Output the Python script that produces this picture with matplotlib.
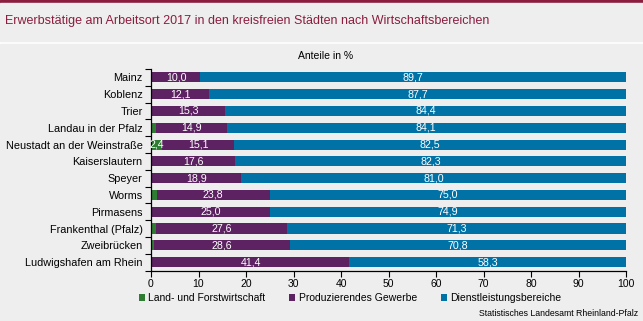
import matplotlib
matplotlib.use('Agg')
import matplotlib.pyplot as plt
import numpy as np

plt.rcParams['font.family'] = ['Liberation Sans', 'DejaVu Sans']

# Daten
staedte = ["Mainz", "Koblenz", "Trier", "Landau in der Pfalz", "Neustadt an der Weinstraße",
           "Kaiserslautern", "Speyer", "Worms", "Pirmasens", "Frankenthal (Pfalz)",
           "Zweibrücken", "Ludwigshafen am Rhein"]
land = [0.3, 0.2, 0.3, 1.0, 2.4, 0.1, 0.1, 1.2, 0.1, 1.1, 0.6, 0.3]
produz = [10.0, 12.1, 15.3, 14.9, 15.1, 17.6, 18.9, 23.8, 25.0, 27.6, 28.6, 41.4]
dienst = [89.7, 87.7, 84.4, 84.1, 82.5, 82.3, 81.0, 75.0, 74.9, 71.3, 70.8, 58.3]
x_ticks = [0, 10, 20, 30, 40, 50, 60, 70, 80, 90, 100]

c_land = '#2E7D32'
c_prod = '#5C2261'
c_dien = '#0072A6'
bg = '#EDEEED'
rot = '#8B1D3F'

fig = plt.figure(figsize=(6.43, 3.21), dpi=100)
fig.patch.set_facecolor('white')

# Hintergrundflächen
fig.patches.append(plt.Rectangle((0, 1 - 3/321), 1, 3/321, transform=fig.transFigure,
                                 color=rot, zorder=-10))
fig.patches.append(plt.Rectangle((0, 1 - 41/321), 1, 38/321, transform=fig.transFigure,
                                 color=bg, zorder=-10))
fig.patches.append(plt.Rectangle((0, 0), 1, 1 - 44/321, transform=fig.transFigure,
                                 color=bg, zorder=-10))

fig.text(5/643, 1 - 21/321, "Erwerbstätige am Arbeitsort 2017 in den kreisfreien Städten nach Wirtschaftsbereichen",
         color=rot, fontsize=9, va='center', ha='left')
fig.text(326/643, 1 - 56/321, "Anteile in %", fontsize=7.5, ha='center', va='center')

ax = fig.add_axes([151/643, 1 - 270.5/321, 475/643, 201.5/321])
ax.set_facecolor(bg)

y = np.arange(len(staedte))
h = 0.6
left_p = np.array(land)
left_d = left_p + np.array(produz)
ax.barh(y, land, height=h, color=c_land, label='Land- und Forstwirtschaft')
ax.barh(y, produz, left=left_p, height=h, color=c_prod, label='Produzierendes Gewerbe')
ax.barh(y, dienst, left=left_d, height=h, color=c_dien, label='Dienstleistungsbereiche')

fmt = lambda v: f"{v:.1f}".replace('.', ',')
for i in range(len(staedte)):
    if land[i] >= 2:
        ax.text(land[i] / 2, y[i], fmt(land[i]), color='white', fontsize=7.7,
                ha='center', va='center')
    ax.text(left_p[i] + produz[i] / 2, y[i], fmt(produz[i]), color='white', fontsize=7.7,
            ha='center', va='center')
    ax.text(left_d[i] + dienst[i] / 2, y[i], fmt(dienst[i]), color='white', fontsize=7.7,
            ha='center', va='center')

ax.set_xlim(0, 100)
ax.set_ylim(len(staedte) - 0.5, -0.5)
ax.set_xticks(x_ticks)
ax.set_yticks(y)
ax.set_yticklabels(staedte)
ax.set_yticks(np.arange(len(staedte) + 1) - 0.5, minor=True)
ax.tick_params(axis='y', which='major', length=0, labelsize=7.8, pad=6)
ax.tick_params(axis='y', which='minor', length=4, width=0.8, direction='out')
ax.tick_params(axis='x', length=4, width=0.8, labelsize=7.5, pad=2)
for s in ['top', 'right']:
    ax.spines[s].set_visible(False)
ax.spines['left'].set_linewidth(0.9)
ax.spines['bottom'].set_linewidth(0.9)

leg = fig.legend(loc='center', bbox_to_anchor=(350/643, 1 - 298/321), ncol=3, frameon=False,
                 fontsize=7.5, handlelength=0.6, handleheight=0.6, handletextpad=0.3,
                 columnspacing=2.3)

fig.text(638/643, 1 - 314/321, "Statistisches Landesamt Rheinland-Pfalz", fontsize=6.3,
         ha='right', va='center')

fig.savefig('out.png', dpi=100, facecolor=fig.get_facecolor())
